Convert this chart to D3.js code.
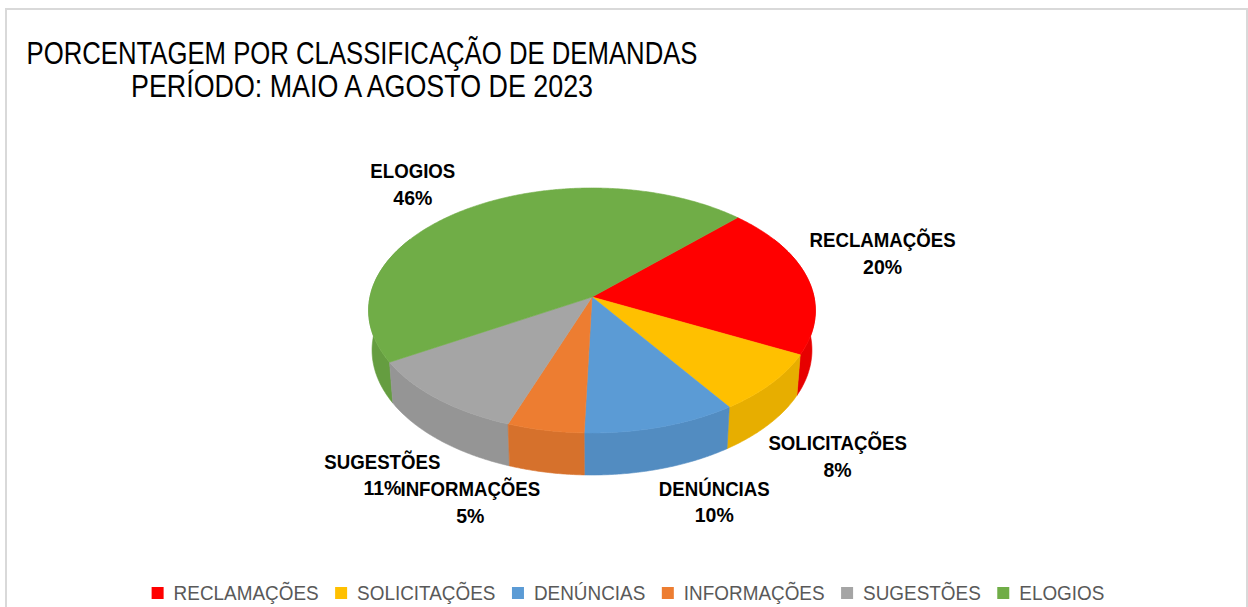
<!DOCTYPE html>
<html>
<head>
<meta charset="utf-8">
<script src="https://cdn.jsdelivr.net/npm/d3@7"></script>
<style>
  html, body { margin: 0; padding: 0; background: #fff; }
  svg { display: block; }
</style>
</head>
<body>
<svg id="chart" width="1248" height="607"></svg>
<script>
// ---- data ----
const categories = ["RECLAMAÇÕES", "SOLICITAÇÕES", "DENÚNCIAS", "INFORMAÇÕES", "SUGESTÕES", "ELOGIOS"];
const values = [20, 8, 10, 5, 11, 46];
const colors = ["#ff0000", "#ffc000", "#5b9bd5", "#ed7d31", "#a5a5a5", "#70ad47"];
const titleLines = ["PORCENTAGEM POR CLASSIFICAÇÃO DE DEMANDAS", "PERÍODO: MAIO A AGOSTO DE 2023"];

// ---- layout (not data) ----
const W = 1248, H = 607;
const FONT = "'Liberation Sans', Arial, sans-serif";
const labelOffsets = [[75, -31], [66, 67], [53, 69], [-75, 66], [-55, 70], [-54, -31]];
const titleWidths = [671, 462];

const svg = d3.select("#chart");

// compress text horizontally so it has a Calibri-like width
function squeeze(sel, factor) {
  sel.each(function () {
    const w = this.getComputedTextLength();
    d3.select(this).attr("textLength", w * factor).attr("lengthAdjust", "spacingAndGlyphs");
  });
}
function factorFor(sample, attrs, target) {
  const t = svg.append("text").attr("font-family", FONT);
  Object.entries(attrs).forEach(([k, v]) => t.attr(k, v));
  t.text(sample);
  const w = t.node().getComputedTextLength();
  t.remove();
  return target / w;
}

// frame
svg.append("rect")
  .attr("x", 6).attr("y", 9).attr("width", W - 7).attr("height", H + 20)
  .attr("fill", "#fff").attr("stroke", "#d9d9d9").attr("stroke-width", 2);

// title
svg.append("g").selectAll("text").data(titleLines).join("text")
  .attr("font-family", FONT).attr("font-size", 30.5).attr("fill", "#000")
  .attr("text-anchor", "middle")
  .attr("x", 362).attr("y", (d, i) => 64 + i * 33)
  .text(d => d)
  .attr("textLength", (d, i) => titleWidths[i])
  .attr("lengthAdjust", "spacingAndGlyphs");

// ---- 3D perspective pie ----
const cx = 592, cy = 297;
const f = 1691, Dcam = 1, R = 0.1313, sinP = 0.545, cosP = 0.838, thick = 0.02834;
const rad = Math.PI / 180;

function project(theta, r, h) {
  const u = r * Math.sin(theta);
  const v = -r * Math.cos(theta);
  const z = Dcam - v * cosP - h * sinP;
  return [cx + f * u / z, cy + f * (v * sinP - h * cosP) / z];
}

const pie = d3.pie().sort(null).value(d => d)
  .startAngle(45 * rad).endAngle(405 * rad);
const arcs = pie(values);
const color = d3.scaleOrdinal(categories, colors);
const line = d3.line();

function arcPoints(a0, a1, h) {
  const n = Math.max(2, Math.ceil((a1 - a0) / (0.5 * rad)));
  return d3.range(n + 1).map(i => project(a0 + (a1 - a0) * i / n, R, h));
}

// walls (only the front part is visible)
const wallMin = 60 * rad, wallMax = 300 * rad;
const walls = arcs.map((a, i) => {
  const a0 = Math.max(a.startAngle, wallMin), a1 = Math.min(a.endAngle, wallMax);
  return { i, a0, a1, mid: (a0 + a1) / 2 };
}).filter(w => w.a1 > w.a0)
  .sort((p, q) => Math.abs(q.mid - Math.PI) - Math.abs(p.mid - Math.PI));

svg.append("g").selectAll("path").data(walls).join("path")
  .attr("d", w => {
    const top = arcPoints(w.a0, w.a1, 0);
    const bot = arcPoints(w.a0, w.a1, -thick).reverse();
    return line(top.concat(bot)) + "Z";
  })
  .attr("fill", w => d3.color(color(categories[w.i])).darker(0.28))
  .attr("stroke", w => d3.color(color(categories[w.i])).darker(0.28))
  .attr("stroke-width", 0.6);

// top faces
svg.append("g").selectAll("path").data(arcs).join("path")
  .attr("d", a => line([project(0, 0, 0)].concat(arcPoints(a.startAngle, a.endAngle, 0))) + "Z")
  .attr("fill", (a, i) => color(categories[i]))
  .attr("stroke", (a, i) => color(categories[i]))
  .attr("stroke-width", 0.6);

// data labels
const nameFactor = factorFor("RECLAMAÇÕES", { "font-size": 21, "font-weight": "bold" }, 146);
const pctFactor = factorFor("20%", { "font-size": 21, "font-weight": "bold" }, 39);
const labelRows = [];
arcs.forEach((a, i) => {
  const mid = (a.startAngle + a.endAngle) / 2;
  const p = project(mid, R, 0);
  const x = p[0] + labelOffsets[i][0], y = p[1] + labelOffsets[i][1];
  labelRows.push({ x, y, text: categories[i], k: nameFactor });
  labelRows.push({ x, y: y + 26.5, text: values[i] + "%", k: pctFactor });
});
svg.append("g").selectAll("text").data(labelRows).join("text")
  .attr("font-family", FONT).attr("font-size", 21).attr("font-weight", "bold")
  .attr("fill", "#000").attr("text-anchor", "middle")
  .attr("x", d => d.x).attr("y", d => d.y)
  .text(d => d.text)
  .each(function (d) {
    const w = this.getComputedTextLength();
    d3.select(this).attr("textLength", w * d.k).attr("lengthAdjust", "spacingAndGlyphs");
  });

// legend
const legendFactor = factorFor("RECLAMAÇÕES", { "font-size": 21 }, 145);
const legend = svg.append("g").attr("font-family", FONT).attr("font-size", 21).attr("fill", "#595959");
const items = legend.selectAll("g").data(categories).join("g");
items.append("rect").attr("width", 12).attr("height", 12).attr("y", 587)
  .attr("fill", d => color(d));
const legTexts = items.append("text").attr("y", 600).text(d => d);
squeeze(legTexts, legendFactor);
const widths = [];
legTexts.each(function () { widths.push(+this.getAttribute("textLength")); });
const sqW = 12, gap1 = 10, gap2 = 16.5;
const total = d3.sum(widths) + categories.length * (sqW + gap1) + (categories.length - 1) * gap2;
let xpos = 628 - total / 2;
items.each(function (d, i) {
  const g = d3.select(this);
  g.select("rect").attr("x", xpos);
  g.select("text").attr("x", xpos + sqW + gap1);
  xpos += sqW + gap1 + widths[i] + gap2;
});
</script>
</body>
</html>
